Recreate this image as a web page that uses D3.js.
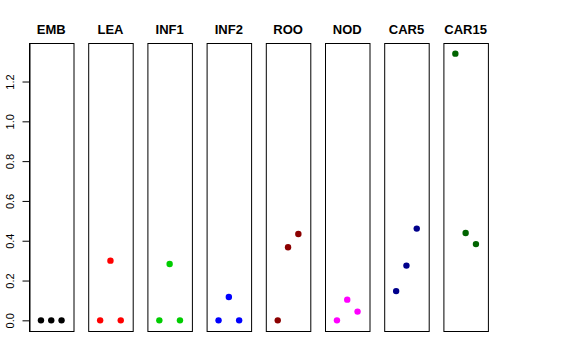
<!DOCTYPE html>
<html>
<head>
<meta charset="utf-8">
<script src="https://cdn.jsdelivr.net/npm/d3@7"></script>
<style>
  body { margin: 0; background: #fff; }
  text { font-family: "Liberation Sans", Arial, sans-serif; }
</style>
</head>
<body>
<div id="chart"></div>
<script>
const tissues = ["EMB", "LEA", "INF1", "INF2", "ROO", "NOD", "CAR5", "CAR15"];
const colors = ["#000000", "#ff0000", "#00cd00", "#0000ff", "#8b0000", "#ff00ff", "#00008b", "#006400"];
const values = [
  [0, 0, 0],
  [0, 0.30, 0],
  [0, 0.283, 0],
  [0, 0.117, 0],
  [0, 0.367, 0.434],
  [0, 0.104, 0.044],
  [0.147, 0.275, 0.461],
  [1.34, 0.439, 0.383]
];
const yTicks = [0, 0.2, 0.4, 0.6, 0.8, 1.0, 1.2];

const W = 576, H = 360;
const plotTop = 43, plotBottom = 331;
const firstLeft = 29, panelW = 44.5, step = 59.2;

const svg = d3.select("#chart").append("svg")
  .attr("width", W).attr("height", H);

const y = d3.scaleLinear()
  .domain([-0.0536, 1.3936])
  .range([plotBottom, plotTop]);

const x = d3.scaleLinear()
  .domain([-0.16, 4.16])
  .range([0, panelW]);

tissues.forEach((name, i) => {
  const g = svg.append("g")
    .attr("transform", `translate(${firstLeft + i * step},0)`);

  g.selectAll("circle")
    .data(values[i])
    .enter()
    .append("circle")
    .attr("cx", (d, j) => x(j + 1))
    .attr("cy", d => y(d))
    .attr("r", 3.2)
    .attr("fill", colors[i]);

  g.append("rect")
    .attr("x", 0.5).attr("y", plotTop + 0.5)
    .attr("width", panelW).attr("height", plotBottom - plotTop)
    .attr("fill", "none")
    .attr("stroke", "#000")
    .attr("stroke-width", 1);

  g.append("text")
    .attr("x", panelW / 2)
    .attr("y", 34)
    .attr("text-anchor", "middle")
    .attr("font-weight", "bold")
    .attr("font-size", 13)
    .text(name);
});

// y axis on first panel
const axis = svg.append("g")
  .attr("transform", `translate(${firstLeft + 0.5},0)`)
  .call(d3.axisLeft(y).tickValues(yTicks).tickFormat(d3.format(".1f")).tickSize(7).tickSizeOuter(0));

axis.select(".domain").attr("stroke", "#000");
axis.selectAll(".tick line").attr("stroke", "#000");
axis.selectAll(".tick text")
  .attr("font-size", 11)
  .attr("font-family", "Liberation Sans, Arial, sans-serif")
  .attr("fill", "#000")
  .attr("text-anchor", "middle")
  .attr("transform", "rotate(-90)")
  .attr("x", 0)
  .attr("dy", 0)
  .attr("y", -16);
</script>
</body>
</html>
